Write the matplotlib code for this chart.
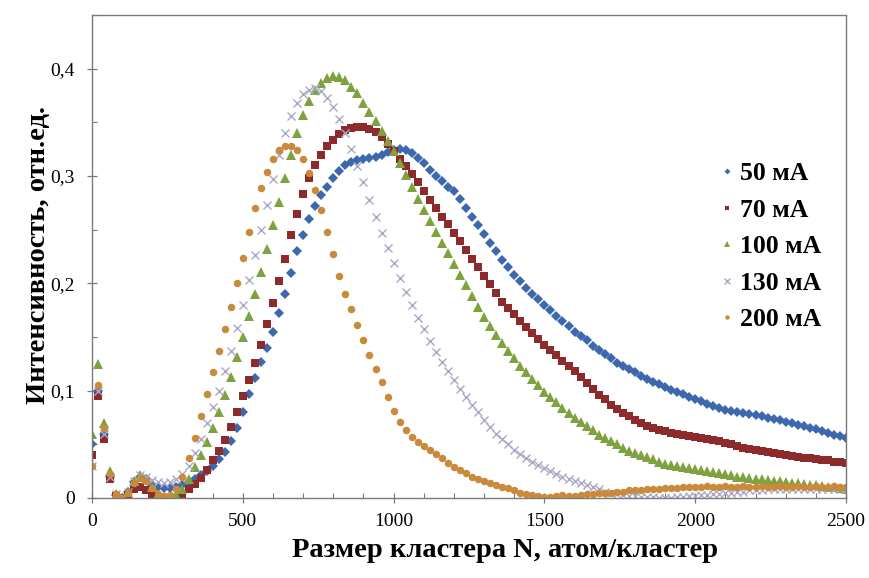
import matplotlib.pyplot as plt
import numpy as np
from matplotlib.ticker import MultipleLocator, FuncFormatter

plt.rcParams['font.family'] = ['Liberation Serif', 'DejaVu Serif']

# cluster size grid, atoms per cluster
N = np.arange(0, 2501, 20)

i50 = [0.050, 0.100, 0.060, 0.020, 0.003, 0.000, 0.006, 0.015, 0.020, 0.018,
       0.012, 0.010, 0.009, 0.009, 0.010, 0.012, 0.015, 0.018, 0.021, 0.025,
       0.030, 0.036, 0.043, 0.053, 0.065, 0.080, 0.097, 0.112, 0.127, 0.140,
       0.155, 0.172, 0.190, 0.210, 0.230, 0.245, 0.260, 0.272, 0.282, 0.290,
       0.298, 0.305, 0.310, 0.313, 0.315, 0.316, 0.317, 0.318, 0.320, 0.322,
       0.324, 0.325, 0.324, 0.321, 0.317, 0.312, 0.306, 0.300, 0.295, 0.290,
       0.286, 0.279, 0.270, 0.262, 0.254, 0.246, 0.238, 0.230, 0.222, 0.215,
       0.208, 0.202, 0.196, 0.190, 0.185, 0.180, 0.175, 0.170, 0.165, 0.160,
       0.155, 0.151, 0.147, 0.142, 0.138, 0.134, 0.130, 0.126, 0.123, 0.120,
       0.117, 0.114, 0.111, 0.108, 0.106, 0.103, 0.101, 0.099, 0.097, 0.094,
       0.092, 0.090, 0.088, 0.086, 0.084, 0.082, 0.081, 0.080, 0.079, 0.078,
       0.077, 0.076, 0.075, 0.074, 0.073, 0.071, 0.070, 0.068, 0.067, 0.065,
       0.064, 0.062, 0.061, 0.059, 0.058, 0.056]

i70 = [0.040, 0.095, 0.055, 0.018, 0.002, 0.000, 0.003, 0.008, 0.010, 0.007,
       0.002, 0.000, 0.000, 0.000, 0.000, 0.003, 0.008, 0.013, 0.019, 0.026,
       0.035, 0.044, 0.054, 0.066, 0.080, 0.095, 0.110, 0.126, 0.143, 0.162,
       0.182, 0.202, 0.223, 0.245, 0.265, 0.283, 0.298, 0.310, 0.320, 0.328,
       0.334, 0.339, 0.343, 0.345, 0.346, 0.346, 0.344, 0.341, 0.336, 0.330,
       0.323, 0.316, 0.309, 0.302, 0.294, 0.286, 0.278, 0.270, 0.262, 0.255,
       0.247, 0.239, 0.231, 0.223, 0.215, 0.207, 0.199, 0.191, 0.183, 0.177,
       0.171, 0.165, 0.159, 0.154, 0.148, 0.143, 0.138, 0.133, 0.128, 0.123,
       0.118, 0.113, 0.107, 0.102, 0.096, 0.092, 0.087, 0.083, 0.079, 0.076,
       0.073, 0.070, 0.067, 0.065, 0.063, 0.062, 0.061, 0.060, 0.059, 0.058,
       0.057, 0.056, 0.055, 0.054, 0.053, 0.051, 0.050, 0.048, 0.047, 0.046,
       0.045, 0.044, 0.043, 0.042, 0.041, 0.040, 0.039, 0.038, 0.037, 0.037,
       0.036, 0.035, 0.035, 0.034, 0.034, 0.033]

i100 = [0.060, 0.125, 0.070, 0.025, 0.004, 0.000, 0.006, 0.016, 0.021, 0.018,
        0.010, 0.004, 0.001, 0.000, 0.003, 0.008, 0.018, 0.029, 0.040, 0.052,
        0.065, 0.080, 0.096, 0.113, 0.131, 0.150, 0.170, 0.190, 0.211, 0.232,
        0.254, 0.276, 0.298, 0.320, 0.340, 0.357, 0.370, 0.380, 0.387, 0.391,
        0.393, 0.392, 0.389, 0.383, 0.377, 0.368, 0.360, 0.351, 0.342, 0.333,
        0.323, 0.312, 0.301, 0.290, 0.279, 0.268, 0.258, 0.248, 0.238, 0.228,
        0.218, 0.208, 0.198, 0.188, 0.178, 0.169, 0.160, 0.152, 0.144, 0.137,
        0.130, 0.123, 0.117, 0.111, 0.105, 0.099, 0.094, 0.089, 0.084, 0.079,
        0.075, 0.071, 0.067, 0.063, 0.059, 0.056, 0.053, 0.050, 0.047, 0.044,
        0.042, 0.040, 0.038, 0.036, 0.034, 0.032, 0.031, 0.030, 0.029, 0.028,
        0.027, 0.026, 0.025, 0.024, 0.023, 0.022, 0.021, 0.020, 0.020, 0.019,
        0.018, 0.018, 0.017, 0.016, 0.016, 0.015, 0.014, 0.014, 0.013, 0.012,
        0.012, 0.011, 0.010, 0.010, 0.009, 0.008]

i130 = [0.030, 0.100, 0.060, 0.020, 0.004, 0.001, 0.006, 0.016, 0.021, 0.020,
        0.017, 0.015, 0.014, 0.015, 0.018, 0.022, 0.030, 0.042, 0.055, 0.070,
        0.085, 0.100, 0.118, 0.137, 0.158, 0.180, 0.203, 0.226, 0.250, 0.273,
        0.297, 0.320, 0.340, 0.356, 0.368, 0.376, 0.380, 0.382, 0.379, 0.373,
        0.364, 0.353, 0.340, 0.325, 0.309, 0.294, 0.278, 0.262, 0.247, 0.233,
        0.219, 0.205, 0.192, 0.180, 0.168, 0.157, 0.146, 0.136, 0.127, 0.118,
        0.110, 0.102, 0.094, 0.087, 0.080, 0.073, 0.066, 0.060, 0.055, 0.050,
        0.045, 0.041, 0.037, 0.034, 0.031, 0.028, 0.025, 0.022, 0.020, 0.018,
        0.016, 0.014, 0.012, 0.010, 0.008, 0.006, 0.005, 0.004, 0.003, 0.002,
        0.002, 0.001, 0.001, 0.001, 0.000, 0.000, 0.000, 0.001, 0.001, 0.002,
        0.002, 0.003, 0.003, 0.004, 0.004, 0.005, 0.005, 0.006, 0.006, 0.007,
        0.007, 0.007, 0.008, 0.008, 0.008, 0.008, 0.008, 0.008, 0.008, 0.008,
        0.008, 0.008, 0.008, 0.008, 0.008, 0.008]

i200 = [0.030, 0.105, 0.065, 0.022, 0.004, 0.000, 0.005, 0.014, 0.019, 0.016,
        0.009, 0.004, 0.002, 0.003, 0.008, 0.020, 0.037, 0.056, 0.076, 0.097,
        0.117, 0.137, 0.157, 0.178, 0.200, 0.224, 0.248, 0.270, 0.289, 0.304,
        0.316, 0.324, 0.328, 0.328, 0.324, 0.316, 0.303, 0.287, 0.268, 0.248,
        0.227, 0.207, 0.190, 0.176, 0.161, 0.147, 0.133, 0.120, 0.108, 0.094,
        0.081, 0.071, 0.063, 0.057, 0.052, 0.048, 0.045, 0.041, 0.037, 0.033,
        0.029, 0.026, 0.023, 0.020, 0.018, 0.016, 0.014, 0.012, 0.010, 0.009,
        0.007, 0.005, 0.004, 0.003, 0.002, 0.001, 0.001, 0.002, 0.003, 0.002,
        0.002, 0.003, 0.004, 0.004, 0.005, 0.005, 0.005, 0.006, 0.006, 0.007,
        0.007, 0.007, 0.008, 0.008, 0.008, 0.009, 0.009, 0.009, 0.010, 0.010,
        0.010, 0.010, 0.011, 0.010, 0.010, 0.011, 0.010, 0.010, 0.011, 0.010,
        0.010, 0.011, 0.010, 0.010, 0.011, 0.010, 0.010, 0.011, 0.010, 0.010,
        0.011, 0.010, 0.010, 0.011, 0.010, 0.010]

labels = ['50 мА', '70 мА', '100 мА', '130 мА', '200 мА']

fig = plt.figure(figsize=(8.7, 5.78), dpi=100)
ax = fig.add_axes([92/870, 80/578, 754/870, 483/578])

ax.plot(N, i50, ls='none', marker='D', ms=5.0, mew=0, color='#3d68ad', label=labels[0])
ax.plot(N, i70, ls='none', marker='s', ms=5.8, mew=0, color='#8c2a2c', label=labels[1])
ax.plot(N, i100, ls='none', marker='^', ms=7.0, mew=0, color='#7ea23f', label=labels[2])
ax.plot(N, i130, ls='none', marker='x', ms=6.2, mew=1.0, color='#a9a9c6', label=labels[3])
ax.plot(N, i200, ls='none', marker='o', ms=5.4, mew=0, color='#c98a3b', label=labels[4])

ax.set_xlim(0, 2500)
ax.set_ylim(0, 0.45)
ax.xaxis.set_major_locator(MultipleLocator(500))
ax.xaxis.set_minor_locator(MultipleLocator(100))
ax.yaxis.set_major_locator(MultipleLocator(0.1))
ax.yaxis.set_minor_locator(MultipleLocator(0.05))


def comma(v, pos):
    if abs(v) < 1e-9:
        return '0'
    return ('%.1f' % v).replace('.', ',')


ax.yaxis.set_major_formatter(FuncFormatter(comma))
ax.tick_params(which='major', direction='inout', length=7, width=0.9,
               color='#7a7a7a', labelsize=14)
ax.tick_params(axis='y', which='major', pad=9)
ax.tick_params(axis='x', which='major', pad=7)
ax.tick_params(which='minor', direction='in', length=3.5, width=0.8, color='#7a7a7a')
for s in ax.spines.values():
    s.set_color('#7a7a7a')
    s.set_linewidth(1.0)

ax.set_xlabel('Размер кластера N, атом/кластер', fontsize=20.5, fontweight='bold')
ax.set_ylabel('Интенсивность, отн.ед.', fontsize=20.5, fontweight='bold')
ax.xaxis.set_label_coords(0.548, -0.082)
ax.yaxis.set_label_coords(-0.054, 0.503)

ax.legend(loc='upper left', bbox_to_anchor=(721/870, 1 - 162/578),
          bbox_transform=fig.transFigure, frameon=False, markerscale=0.6,
          handlelength=0.45, handletextpad=0.3, borderpad=0, borderaxespad=0,
          labelspacing=0.53, prop={'size': 18.5, 'weight': 'bold'})

fig.savefig('out.png', dpi=100)
